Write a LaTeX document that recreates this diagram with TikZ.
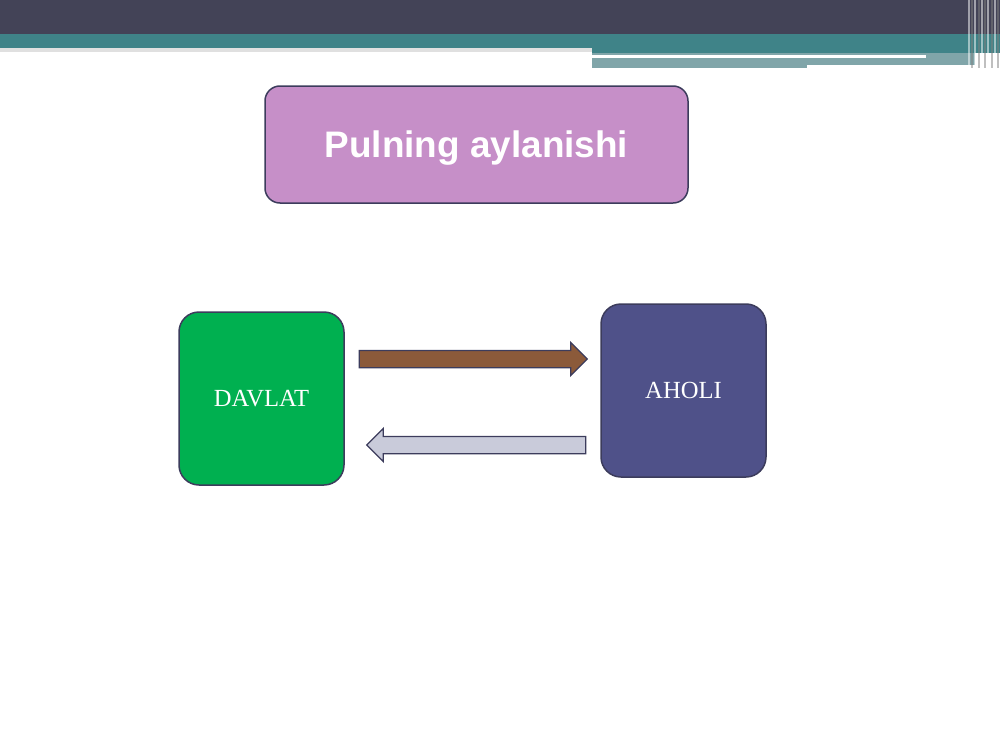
\documentclass[tikz,border=0pt]{standalone}
\usepackage{fontspec}
\setmainfont{Liberation Serif}
\newfontfamily\titlefont{Liberation Sans}
\usetikzlibrary{shapes.arrows}

\definecolor{barDark}{HTML}{434357}
\definecolor{barTeal}{HTML}{3F8388}
\definecolor{barGrey}{HTML}{80A5A9}
\definecolor{boxLine}{HTML}{3C3C5C}
\definecolor{titleFill}{HTML}{C68FC8}
\definecolor{davlatFill}{HTML}{00B050}
\definecolor{aholiFill}{HTML}{4F5189}
\definecolor{moneyFill}{HTML}{8B5A3A}
\definecolor{backFill}{HTML}{C9CBDA}

\tikzset{
  box/.style={draw=boxLine, line width=0.3mm, rounded corners=4mm, inner sep=0pt, text=white,
              minimum width=33mm, minimum height=34.6mm, font=\fontsize{14}{16}\selectfont},
  flow/.style={single arrow, draw=boxLine, line width=0.25mm, inner sep=1.6mm,
               single arrow head extend=1.6mm}
}

\begin{document}
\begin{tikzpicture}[x=0.2mm, y=-0.2mm]

  \useasboundingbox (0,0) rectangle (1000,750);

  % Top bar:
  \fill[barDark] (0,0)   rectangle (1000,34);
  \fill[black!12] (0,48) rectangle (592,52);
  \fill[barTeal] (0,34)  rectangle (592,48);
  \fill[barTeal] (592,34) rectangle (1000,53);
  \fill[barGrey] (592,53) rectangle (975,68);
  \fill[white]   (592,55) rectangle (926,57.5);
  \fill[white]   (807,65) rectangle (980,67.5);

  % Stripes at the right end
  \foreach \sx/\sc in {969/white,972/gray,975/white,979/gray,982/white,985/gray,988/white,992/gray,995/white,998/gray}
    \draw[\sc, opacity=0.5, line width=0.4mm] (\sx,0) -- (\sx,68);

  % Title:
  \node[box, fill=titleFill, rounded corners=3mm, minimum width=84.6mm, minimum height=23.4mm, text depth=0pt,
        font=\titlefont\bfseries\fontsize{21}{24}\selectfont] (title) at (476.5,144.5) {Pulning aylanishi};

  % Boxes:
  \node[box, fill=davlatFill] (davlat) at (261.5,398.5) {DAVLAT};
  \node[box, fill=aholiFill]  (aholi)  at (683.5,390.5) {AHOLI};

  % Money flow:
  \node[flow, fill=moneyFill, minimum height=45.6mm]                        (toAholi)  at (469,359)   {};
  \node[flow, fill=backFill,  minimum height=43.8mm, shape border rotate=180] (toDavlat) at (480.5,445) {};

\end{tikzpicture}
\end{document}
